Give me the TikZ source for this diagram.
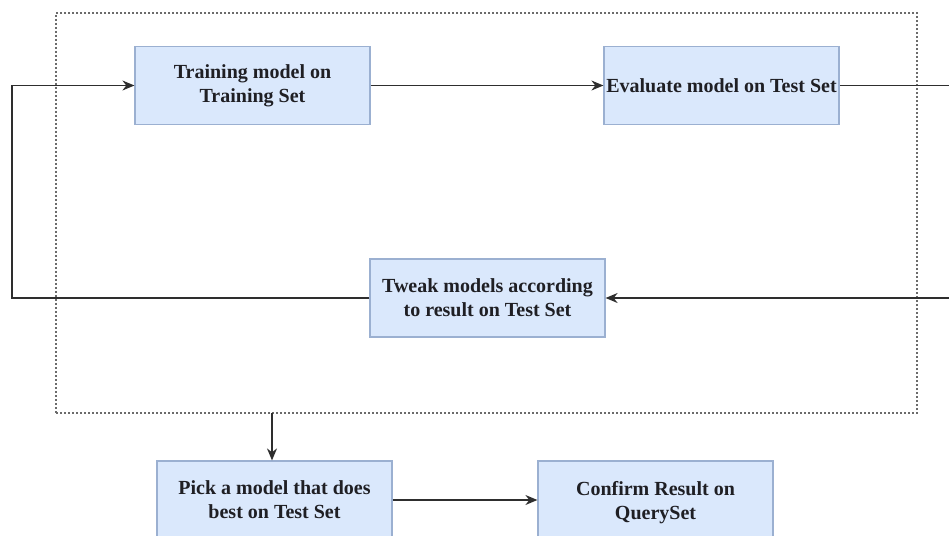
\documentclass[tikz,border=0pt]{standalone}
\usepackage{fontspec}
\setmainfont{Liberation Serif}
\usetikzlibrary{arrows.meta}

\newlength{\du}
\setlength{\du}{1pt}

\definecolor{boxfillcolor}{rgb}{0.855, 0.910, 0.988}
\definecolor{boxlinecolor}{rgb}{0.608, 0.690, 0.820}
\definecolor{dialinecolor}{rgb}{0.180, 0.180, 0.180}
\definecolor{dotlinecolor}{rgb}{0.420, 0.420, 0.420}
\definecolor{textcolor}{rgb}{0.120, 0.120, 0.140}

\tikzset{
  stepbox/.style={draw=boxlinecolor, fill=boxfillcolor, line width=1.2\du,
    minimum width=235\du, minimum height=78\du, inner sep=0pt, align=center,
    text=textcolor, font=\fontsize{20}{24}\selectfont\bfseries},
  frame/.style={draw=dotlinecolor, line width=1.2\du, dash pattern=on 2\du off 2\du,
    minimum width=861\du, minimum height=400\du, inner sep=0pt},
  flow/.style={draw=dialinecolor, line width=1.3\du, -{Stealth[length=12pt,width=10pt]}}
}

\begin{document}
\begin{tikzpicture}[x=\du, y=-\du]
\useasboundingbox (0,0) rectangle (949,535);
\clip (0,0) rectangle (949,535);
\fill[white] (0,0) rectangle (949,535);

% dotted frame round the tuning loop
\node[frame] (loop) at (486.5,213) {};

% boxes
\node[stepbox] (train) at (252.5,85.5) {Training model on\\Training Set};
\node[stepbox] (eval) at (721.5,85.5) {Evaluate model on Test Set};
\node[stepbox] (tweak) at (487.5,298) {Tweak models according\\to result on Test Set};
\node[stepbox] (pick) at (274.5,500) {Pick a model that does\\best on Test Set};
\node[stepbox] (confirm) at (655.5,500) {Confirm Result on\\\smash{QuerySet}};

% corners of the feedback loop
\coordinate (evalout) at (965,85.5);
\coordinate (evalturn) at (965,298);
\coordinate (tweakturn) at (12,298);
\coordinate (trainturn) at (12,85.5);
\coordinate (loopout) at (272,413);

\draw[flow] (train) -- (eval);
\draw[flow] (eval.east) -- (evalout) -- (evalturn) -- (tweak.east);
\draw[flow] (tweak.west) -- (tweakturn) -- (trainturn) -- (train.west);
\draw[flow] (loopout) -- (pick.north -| loopout);
\draw[flow] (pick) -- (confirm);
\end{tikzpicture}
\end{document}
